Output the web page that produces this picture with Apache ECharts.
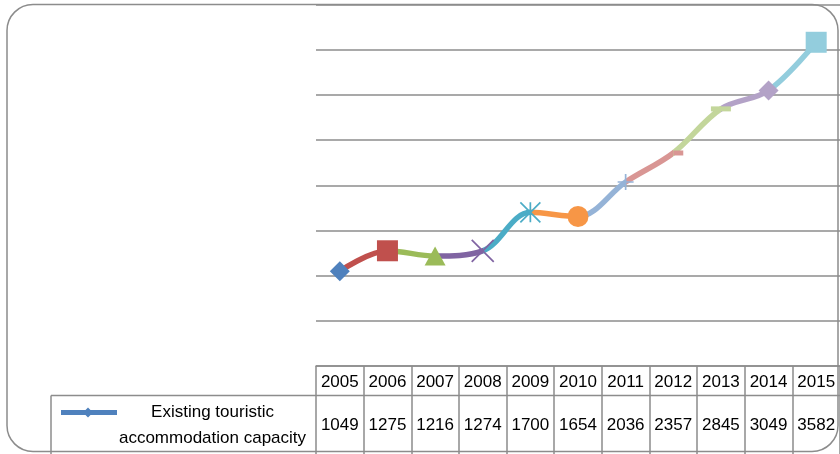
<!DOCTYPE html>
<html>
<head>
<meta charset="utf-8">
<script src="https://cdn.jsdelivr.net/npm/echarts@6/dist/echarts.min.js"></script>
<style>html,body{margin:0;padding:0;background:#fff}#c{width:840px;height:454px}</style>
</head>
<body>
<div id="c"></div>
<script>
const years = ['2005','2006','2007','2008','2009','2010','2011','2012','2013','2014','2015'];
const capacity = [1049, 1275, 1216, 1274, 1700, 1654, 2036, 2357, 2845, 3049, 3582];
const seriesName = 'Existing touristic accommodation capacity';
const yTicks = {min: 0, max: 4000, interval: 500};
const pointColors = ['#4F81BD','#C0504D','#9BBB59','#8064A2','#4BACC6','#F79646','#95B3D7','#D99694','#C3D69B','#B3A2C7','#93CDDD'];

const FONT = '"Liberation Sans", Arial, sans-serif';
const FS = 17;
const GRID = '#8c8c8c';

// marker definitions per point (Excel's varied markers)
const markerDefs = [
  {symbol: 'diamond', size: [20, 20]},
  {symbol: 'rect', size: [21, 21]},
  {symbol: 'triangle', size: [21, 19]},
  {symbol: 'path://M0,0L20,20M20,0L0,20', size: [22, 22], stroke: true},
  {symbol: 'path://M0,0L20,20M20,0L0,20M10,0L10,20', size: [20, 20], stroke: true},
  {symbol: 'circle', size: [21, 21]},
  {symbol: 'path://M8,0L8,16M0,8L16,8', size: [16, 16], stroke: true},
  {symbol: 'rect', size: [10, 5], offset: [5, 0]},
  {symbol: 'rect', size: [20, 5]},
  {symbol: 'diamond', size: [20, 20]},
  {symbol: 'rect', size: [21, 21]}
];

const markerData = capacity.map((v, i) => {
  const m = markerDefs[i];
  const item = {
    value: v,
    symbol: m.symbol,
    symbolSize: m.size,
    symbolKeepAspect: false,
    itemStyle: m.stroke
      ? {color: 'rgba(0,0,0,0)', borderColor: pointColors[i], borderWidth: 1.7, opacity: 1}
      : {color: pointColors[i], opacity: 1}
  };
  if (m.offset) item.symbolOffset = m.offset;
  return item;
});

const pieces = pointColors.map((c, i) => i === 0 ? {lte: 0, color: c} : {gt: i - 1, lte: i, color: c});

const chart = echarts.init(document.getElementById('c'), null, {renderer: 'canvas'});
chart.setOption({
  animation: false,
  backgroundColor: '#fff',
  grid: {left: 316, top: 4.5, width: 529, height: 361.5, containLabel: false},
  xAxis: [
    {
      type: 'category', data: years, boundaryGap: true, position: 'bottom',
      axisLine: {show: true, lineStyle: {color: GRID, width: 1.5}},
      axisTick: {show: true, length: 92, interval: 0, lineStyle: {color: GRID, width: 1.5}},
      axisLabel: {interval: 0, margin: 7.5, color: '#000', fontSize: FS, fontFamily: FONT}
    },
    {
      type: 'category', data: capacity.map(String), boundaryGap: true, position: 'bottom',
      axisLine: {show: false}, axisTick: {show: false},
      axisLabel: {interval: 0, margin: 50.5, color: '#000', fontSize: FS, fontFamily: FONT}
    }
  ],
  yAxis: {
    type: 'value', min: yTicks.min, max: yTicks.max, interval: yTicks.interval,
    axisLabel: {show: false}, axisLine: {show: false}, axisTick: {show: false},
    splitLine: {show: true, lineStyle: {color: GRID, width: 1.5}}
  },
  visualMap: {
    type: 'piecewise', show: false, dimension: 0, seriesIndex: 0, pieces: pieces
  },
  legend: {
    data: [seriesName],
    left: 56, top: 399,
    itemWidth: 56, itemHeight: 10,
    icon: 'path://M0,2.5L24.5,2.5L27,0L29.5,2.5L56,2.5L56,7.5L29.5,7.5L27,10L24.5,7.5L0,7.5Z',
    itemStyle: {color: '#4F81BD'},
    formatter: () => '{a|Existing touristic}\n{a|accommodation capacity}',
    textStyle: {
      padding: [26, 0, 0, 0],
      rich: {a: {width: 181, align: 'center', fontSize: FS, lineHeight: 26, fontFamily: FONT, color: '#000'}}
    },
    selectedMode: false
  },
  graphic: [
    {type: 'rect', z: -10, silent: true, shape: {x: 7, y: 4.5, width: 831, height: 447, r: 26},
     style: {fill: 'none', stroke: GRID, lineWidth: 1.5}},
    {type: 'line', silent: true, shape: {x1: 51, y1: 395.5, x2: 845, y2: 395.5}, style: {stroke: GRID, lineWidth: 1.5}},
    {type: 'line', silent: true, shape: {x1: 51, y1: 395.5, x2: 51, y2: 460}, style: {stroke: GRID, lineWidth: 1.5}}
  ],
  series: [
    {
      name: seriesName, type: 'line', data: capacity, smooth: 0.35,
      showSymbol: false, symbol: 'diamond', symbolSize: 9,
      itemStyle: {color: '#4F81BD'},
      lineStyle: {width: 5.5, cap: 'round', join: 'round'},
      z: 2, silent: true
    },
    {
      name: 'markers', type: 'scatter', data: markerData, z: 3, silent: true
    }
  ]
});
</script>
</body>
</html>
